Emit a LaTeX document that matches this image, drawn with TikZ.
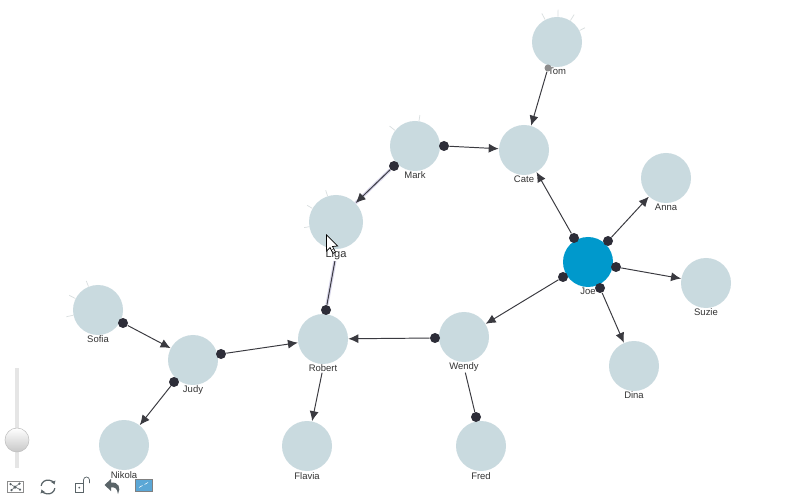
\documentclass[tikz,border=0pt]{standalone}
\usepackage{fontspec}
\setmainfont{Liberation Sans}
\usetikzlibrary{positioning,arrows.meta}
\definecolor{nodeblue}{HTML}{C9DADF}
\definecolor{rootblue}{HTML}{0099CC}
\definecolor{dotdark}{HTML}{2D2D38}
\definecolor{edgedark}{HTML}{3A3A40}
\definecolor{glowblue}{HTML}{D8D6EA}
\definecolor{tickgray}{HTML}{DADFE0}
\definecolor{toolgray}{HTML}{5A6468}
\definecolor{toolblue}{HTML}{5BA7D6}
\tikzset{
  person/.style={circle,fill=nodeblue,inner sep=0,minimum size=1cm},
  rootperson/.style={person,fill=rootblue},
  handle/.style={circle,fill=dotdark,inner sep=0,minimum size=0.2cm},
  personname/.style={inner sep=0.4pt,text=black!80,font=\fontsize{5.4}{6}\selectfont},
  link/.style={draw=edgedark,line width=0.55pt,-{Latex[length=2mm,width=1.8mm]}},
  plainlink/.style={draw=edgedark,line width=0.55pt},
  glow/.style={preaction={draw=glowblue,line width=1.8pt,-{}}},
  spike/.style={draw=tickgray,line width=0.4pt}
}
\begin{document}
\begin{tikzpicture}
\useasboundingbox (0,0) rectangle (16,-10);
\fill[white] (0,0) rectangle (16,-10);
% people
\node[person] (tom) at (11.14,-0.84) {};
\node[person] (cate) at (10.48,-3.00) {};
\node[person] (mark) at (8.30,-2.92) {};
\node[person] (anna) at (13.32,-3.56) {};
\node[person,minimum size=1.08cm] (liga) at (6.72,-4.44) {};
\node[rootperson] (joe) at (11.76,-5.24) {};
\node[person] (suzie) at (14.12,-5.66) {};
\node[person] (wendy) at (9.28,-6.74) {};
\node[person] (robert) at (6.46,-6.78) {};
\node[person] (sofia) at (1.96,-6.20) {};
\node[person] (judy) at (3.86,-7.20) {};
\node[person] (dina) at (12.68,-7.32) {};
\node[person] (nikola) at (2.48,-8.90) {};
\node[person] (flavia) at (6.14,-8.92) {};
\node[person] (fred) at (9.62,-8.92) {};
% pointer
\draw[black,fill=white,line width=0.4pt] (6.53,-4.70) -- (6.53,-5.02) -- (6.60,-4.95) -- (6.66,-5.07) -- (6.71,-5.04) -- (6.65,-4.93) -- (6.75,-4.92) -- cycle;
% names
\node[personname,below=-0.4pt of tom] (tomname) {Tom};
\node[personname,below=-0.4pt of cate] (catename) {Cate};
\node[personname,below=-0.4pt of mark] (markname) {Mark};
\node[personname,below=-0.4pt of anna] (annaname) {Anna};
\node[personname,below=-0.4pt of liga,font=\fontsize{6.3}{7}\selectfont] (liganame) {Liga};
\node[personname,below=-0.4pt of joe] (joename) {Joe};
\node[personname,below=-0.4pt of suzie] (suziename) {Suzie};
\node[personname,below=-0.4pt of wendy] (wendyname) {Wendy};
\node[personname,below=-0.4pt of robert] (robertname) {Robert};
\node[personname,below=-0.4pt of sofia] (sofianame) {Sofia};
\node[personname,below=-0.4pt of judy] (judyname) {Judy};
\node[personname,below=-0.4pt of dina] (dinaname) {Dina};
\node[personname,below=0pt of nikola] (nikolaname) {Nikola};
\node[personname,below=0pt of flavia] (flavianame) {Flavia};
\node[personname,below=0pt of fred] (fredname) {Fred};
% handles
\node[handle,fill=black!45,minimum size=0.14cm] (tomcate) at (10.96,-1.36) {};
\node[handle] (markcate) at (8.88,-2.92) {};
\node[handle] (markliga) at (7.88,-3.32) {};
\node[handle] (robertliga) at (6.52,-6.20) {};
\node[handle] (joecate) at (11.48,-4.76) {};
\node[handle] (joeanna) at (12.16,-4.82) {};
\node[handle] (joesuzie) at (12.32,-5.34) {};
\node[handle] (joedina) at (12.00,-5.76) {};
\node[handle] (joewendy) at (11.26,-5.54) {};
\node[handle] (wendyrobert) at (8.70,-6.76) {};
\node[handle] (fredwendy) at (9.52,-8.34) {};
\node[handle] (judyrobert) at (4.42,-7.08) {};
\node[handle] (judynikola) at (3.48,-7.64) {};
\node[handle] (sofiajudy) at (2.46,-6.46) {};
% links
\draw[link] (tomcate) -- (cate);
\draw[link] (markcate) -- (cate);
\draw[link,glow] (markliga) -- (liga);
\draw[plainlink,glow] (robertliga) -- (liganame);
\draw[link] (joecate) -- (cate);
\draw[link] (joeanna) -- (anna);
\draw[link] (joesuzie) -- (suzie);
\draw[link] (joedina) -- (dina);
\draw[link] (joewendy) -- (wendy);
\draw[link] (wendyrobert) -- (robert);
\draw[plainlink] (fredwendy) -- (wendyname);
\draw[link] (robertname) -- (flavia);
\draw[link] (judyrobert) -- (robert);
\draw[link] (judynikola) -- (nikola);
\draw[link] (sofiajudy) -- (judy);
% spikes
\draw[spike] (tom.118) -- ++(118:0.14);
\draw[spike] (tom.88) -- ++(88:0.14);
\draw[spike] (tom.58) -- ++(58:0.14);
\draw[spike] (tom.27) -- ++(27:0.12);
\draw[spike] (mark.81) -- ++(81:0.12);
\draw[spike] (mark.142) -- ++(142:0.14);
\draw[spike] (liga.108) -- ++(108:0.12);
\draw[spike] (liga.150) -- ++(150:0.12);
\draw[spike] (liga.190) -- ++(190:0.1);
\draw[spike] (sofia.112) -- ++(112:0.12);
\draw[spike] (sofia.153) -- ++(153:0.14);
\draw[spike] (sofia.192) -- ++(192:0.14);
% slider
\fill[black!10] (0.30,-7.36) rectangle (0.38,-9.36);
\shade[top color=white,bottom color=black!22,draw=black!25,line width=0.3pt] (0.34,-8.80) circle (0.24);
% toolbar
\draw[black!45,line width=0.4pt] (0.15,-9.62) rectangle (0.46,-9.84);
\draw[toolgray,line width=0.3pt] (0.21,-9.68) -- (0.30,-9.74) -- (0.39,-9.67) (0.30,-9.74) -- (0.23,-9.80) (0.30,-9.74) -- (0.40,-9.79);
\fill[toolgray] (0.21,-9.68) circle (0.025) (0.30,-9.74) circle (0.035) (0.39,-9.67) circle (0.025) (0.23,-9.80) circle (0.025) (0.40,-9.79) circle (0.025);
\draw[toolgray,line width=0.7pt,-{Latex[length=0.7mm,width=1mm]}] (0.822,-9.716) arc (170:20:0.14);
\draw[toolgray,line width=0.7pt,-{Latex[length=0.7mm,width=1mm]}] (1.098,-9.764) arc (-10:-160:0.14);
\draw[toolgray,line width=0.4pt] (1.50,-9.66) rectangle (1.67,-9.84);
\fill[toolgray] (1.585,-9.75) circle (0.02);
\draw[toolgray,line width=0.4pt] (1.67,-9.66) -- (1.67,-9.60) arc (180:0:0.06) -- (1.79,-9.66);
\fill[toolgray] (2.09,-9.70) -- (2.22,-9.58) -- (2.22,-9.65) .. controls (2.38,-9.64) and (2.42,-9.76) .. (2.36,-9.88) .. controls (2.34,-9.76) and (2.30,-9.74) .. (2.22,-9.75) -- (2.22,-9.82) -- cycle;
\draw[black!50,fill=toolblue,line width=0.3pt] (2.70,-9.58) rectangle (3.04,-9.82);
\draw[white,line width=0.3pt] (2.78,-9.75) -- (2.85,-9.71) (2.96,-9.65) -- (2.89,-9.69);
\end{tikzpicture}
\end{document}
